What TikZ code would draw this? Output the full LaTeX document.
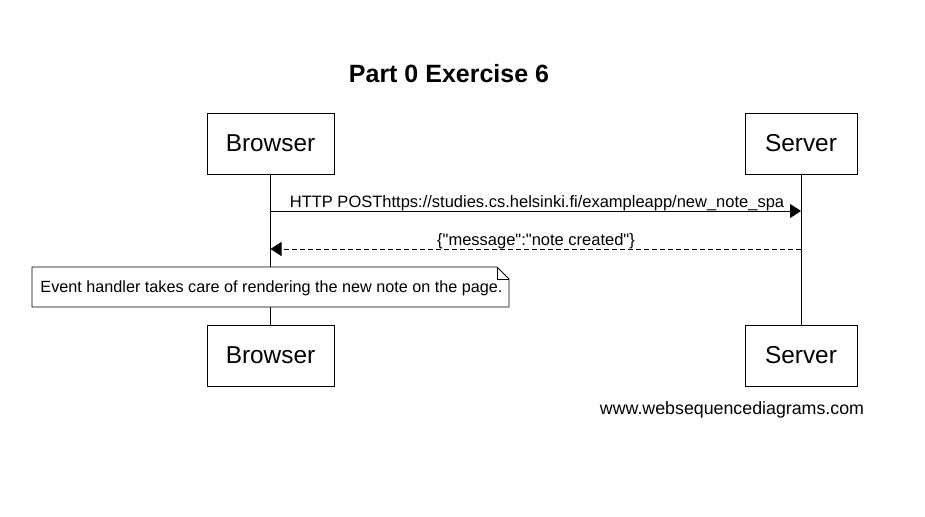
\documentclass[tikz,border=0pt]{standalone}
\usepackage{fontspec}
\setmainfont{Liberation Sans}
\newfontfamily\plainf{Liberation Sans}
\usetikzlibrary{arrows.meta}
\begin{document}
\begin{tikzpicture}[x=1pt,y=-1pt,
  actor/.style={draw,line width=0.8pt,minimum width=127pt,minimum height=61pt,font=\fontsize{24.4}{28}\selectfont,inner sep=0pt},
  msg/.style={font=\fontsize{16.5}{19}\selectfont,inner sep=1pt},
  life/.style={line width=0.8pt},
  arr/.style={line width=0.8pt,-{Triangle[length=11pt,width=14pt]}}]
\useasboundingbox (0,0) rectangle (925,516);
\node[font=\bfseries\fontsize{25}{29}\selectfont] (title) at (449,74) {Part 0 Exercise 6};
\node[actor] (bt) at (270.5,143.5) {Browser};
\node[actor,minimum width=112pt] (st) at (801,143.5) {Server};
\node[actor] (bb) at (270.5,355.5) {Browser};
\node[actor,minimum width=112pt] (sb) at (801,355.5) {Server};
\draw[life] (bt.south) -- (bb.north);
\draw[life] (st.south) -- (sb.north);
\coordinate (a1s) at (270.5,211);
\coordinate (a1e) at (801,211);
\draw[arr] (a1s) -- (a1e);
\node[msg,anchor=base] (l1) at (537,207.5) {HTTP POSThttps://studies.cs.helsinki.fi/exampleapp/new\_note\_spa};
\coordinate (a2s) at (801,249);
\coordinate (a2e) at (270.5,249);
\draw[arr,dashed,dash pattern=on 5pt off 3pt] (a2s) -- (a2e);
\node[msg,anchor=base] (l2) at (536,245.5) {\plainf\{"message":"note created"\}};
\draw[line width=0.8pt,fill=white] (32,267) -- (497,267) -- (509,279) -- (509,307) -- (32,307) -- cycle;
\draw[line width=0.8pt] (497,267) -- (497,279) -- (509,279);
\node[msg,font=\fontsize{16.2}{19}\selectfont] (note) at (271.5,288) {Event handler takes care of rendering the new note on the page.};
\node[font=\fontsize{17.8}{20}\selectfont] (foot) at (732,410) {www.websequencediagrams.com};
\end{tikzpicture}
\end{document}
